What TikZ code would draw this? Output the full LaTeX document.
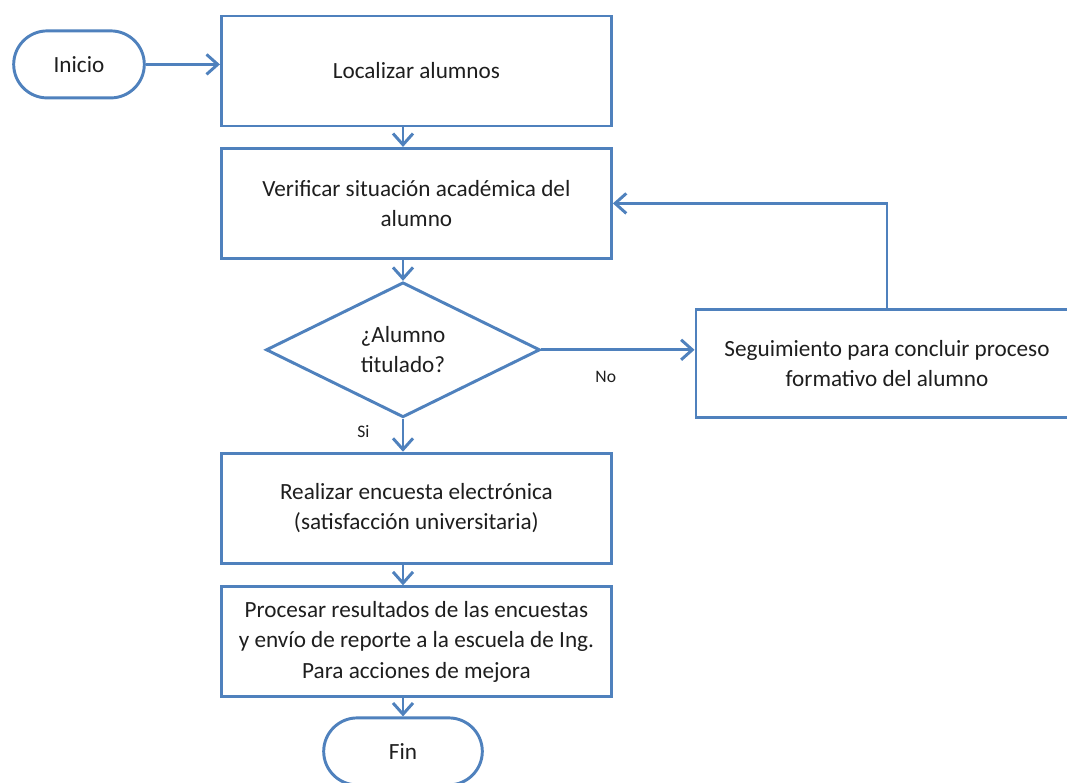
\documentclass[tikz,border=0pt]{standalone}
\usepackage{fontspec}
\setmainfont{Carlito}
\usepackage{tikz}
\usetikzlibrary{shapes.geometric,shapes.misc,arrows.meta}
\definecolor{linea}{RGB}{79,129,189}
\definecolor{texto}{RGB}{30,30,30}

\begin{document}
\begin{tikzpicture}[font=\fontsize{16.5}{21.6}\selectfont, text=texto, line width=2.1pt,
    box/.style = {draw=linea, rectangle, minimum width=97.5mm, minimum height=27.5mm, align=center},
    term/.style = {draw=linea, rounded rectangle, minimum width=35mm, minimum height=16.75mm},
    dec/.style = {draw=linea, diamond, shape aspect=2, inner sep=0pt, minimum width=68.5mm, minimum height=33.75mm, align=center},
    arr/.style = {draw=linea, -{Straight Barb[length=2.8mm, width=5mm]}},
    lbl/.style = {font=\fontsize{12.5}{14}\selectfont, inner sep=0pt}]
                    \useasboundingbox (0,0) rectangle (266.75mm,-195.75mm);
                    \node[term] (ini) at (19.75mm,-16.1mm) {Inicio};
                    \node[box] (loc) at (104.1mm,-17.75mm) {Localizar alumnos};
                    \node[box] (ver) [below of=loc, node distance=33.1mm] {Verificar situación académica del\\alumno};
                    \node[dec] (dec) [below of=ver, node distance=36.6mm, xshift=-3.35mm] {¿Alumno\\titulado?};
                    \node[box] (rea) [below of=dec, node distance=39.6mm, xshift=3.35mm] {Realizar encuesta electrónica\\(satisfacción universitaria)};
                    \node[box] (pro) [below of=rea, node distance=33.4mm] {Procesar resultados de las encuestas\\y envío de reporte a la escuela de Ing.\\Para acciones de mejora};
                    \node[term, minimum width=42mm] (fin) [below of=pro, node distance=27.4mm, xshift=-3.35mm] {Fin};
                    \node[box, minimum width=95.5mm, minimum height=27mm] (seg) [right of=dec, node distance=121mm, yshift=-3.5mm] {Seguimiento para concluir proceso\\formativo del alumno};
                    \draw[arr] (ini.east) -- (ini.east -| loc.west);
                    \draw[arr] (loc.south -| dec) -- (ver.north -| dec);
                    \draw[arr] (ver.south -| dec) -- (dec.north);
                    \draw[arr] (dec.south) -- node[lbl, pos=0.4, left=8mm] {Si} (rea.north -| dec);
                    \draw[arr] (dec.east) -- node[lbl, pos=0.42, below=5mm] {No} (seg.west |- dec);
                    \draw[arr] (seg.north) |- (ver.east);
                    \draw[arr] (rea.south -| dec) -- (pro.north -| dec);
                    \draw[arr] (pro.south -| dec) -- (fin.north);
                \end{tikzpicture}
\end{document}
